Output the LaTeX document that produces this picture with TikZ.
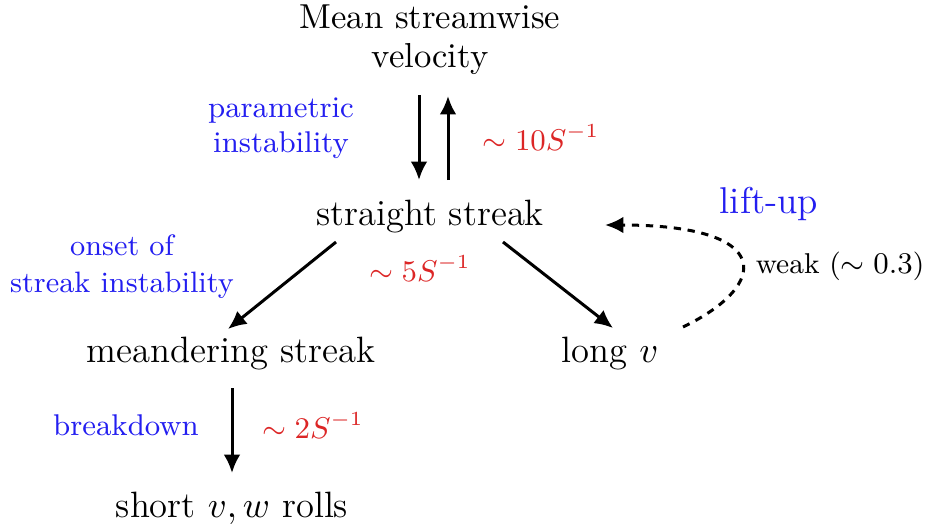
\documentclass[tikz,border=0pt]{standalone}
\usetikzlibrary{arrows.meta}
\definecolor{lblue}{RGB}{35,30,240}
\definecolor{lred}{RGB}{220,38,38}
\begin{document}
\begin{tikzpicture}[x=0.3pt,y=-0.3pt,
  main/.style={anchor=base,inner sep=0pt,font=\fontsize{11}{13}\selectfont,align=center},
  proc/.style={anchor=base,inner sep=0pt,text=lblue,font=\fontsize{9}{11}\selectfont,align=center},
  rate/.style={anchor=base,inner sep=0pt,text=lred,font=\fontsize{9.2}{11}\selectfont},
  conn/.style={line width=0.9pt,-{Latex[length=5.5pt,width=5pt]}},
  dconn/.style={line width=0.9pt,dash pattern=on 2.2pt off 2pt,-{Latex[length=5.5pt,width=5pt]}}]
\useasboundingbox (0,0) rectangle (926,530);
% main nodes
\node[main,font=\fontsize{10.4}{12}\selectfont] (mean) at (430,28) {Mean streamwise};
\node[main,font=\fontsize{10.4}{12}\selectfont] (vel) at (430,67) {velocity};
\node[main] (straight) at (430,225) {straight streak};
\node[main] (meander) at (231,362) {meandering streak};
\node[main] (long) at (610,362) {long $v$};
\node[main] (short) at (232,517) {short $v,w$ rolls};
% labels
\node[proc] (param1) at (281,117) {parametric};
\node[proc] (param2) at (281,152) {instability};
\node[proc,font=\fontsize{8.85}{11}\selectfont] (onset1) at (122,255) {onset of};
\node[proc,font=\fontsize{8.85}{11}\selectfont] (onset2) at (122,292) {streak instability};
\node[proc] (brk) at (126,435) {breakdown};
\node[proc,font=\fontsize{11.2}{13}\selectfont] (lift) at (769,213) {lift-up};
\node[rate] (r10) at (541,150) {$\sim 10S^{-1}$};
\node[rate] (r5) at (420,281) {$\sim 5S^{-1}$};
\node[rate] (r2) at (313,438) {$\sim 2S^{-1}$};
\node[main,font=\fontsize{8.6}{10}\selectfont] (weak) at (840,273) {weak ($\sim 0.3$)};
% connector end points
\coordinate (a1) at (419,95);
\coordinate (a2) at (419,180);
\coordinate (b1) at (448,180);
\coordinate (b2) at (448,96);
\coordinate (c1) at (336,242);
\coordinate (c2) at (228,329);
\coordinate (d1) at (503,242);
\coordinate (d2) at (613,328);
\coordinate (e1) at (232,388);
\coordinate (e2) at (232,473);
\coordinate (f1) at (683,327);
\coordinate (f2) at (605,225);
% connectors
\draw[conn] (a1) -- (a2);
\draw[conn] (b1) -- (b2);
\draw[conn] (c1) -- (c2);
\draw[conn] (d1) -- (d2);
\draw[conn] (e1) -- (e2);
\draw[dconn] (f1) .. controls (770,285) and (775,225) .. (f2);
\end{tikzpicture}
\end{document}
